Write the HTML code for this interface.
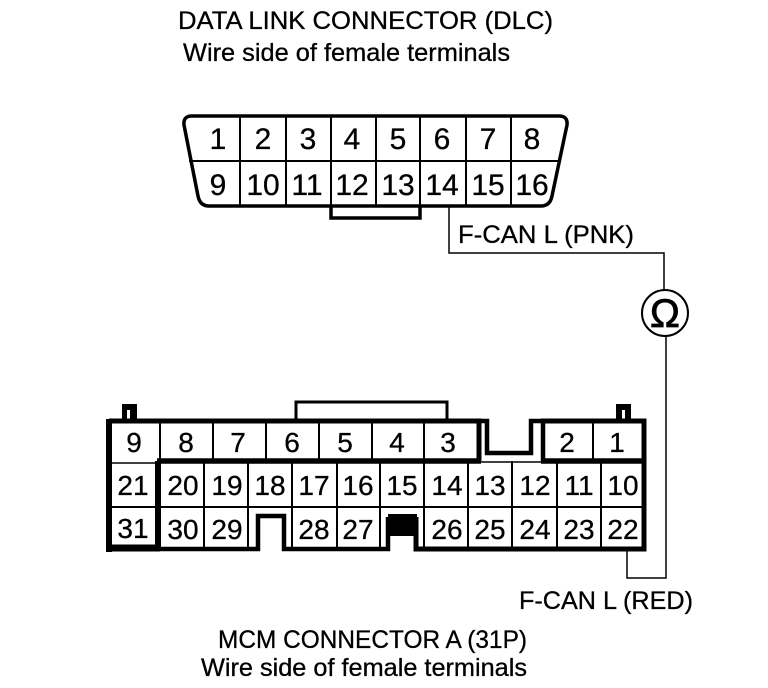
<!DOCTYPE html>
<html><head><meta charset="utf-8"><style>
html,body{margin:0;padding:0;background:#fff}
svg{display:block}
text{font-family:"Liberation Sans",sans-serif;fill:#000;stroke:#000;stroke-width:.3}
.d text{font-size:30px;text-anchor:middle}
.m text{font-size:28px;text-anchor:middle}
.l{font-size:25px}
</style></head><body>
<svg width="768" height="688" viewBox="0 0 768 688" xmlns="http://www.w3.org/2000/svg">
<rect width="768" height="688" fill="#fff"/>
<text class="l" x="178" y="29" textLength="375" lengthAdjust="spacingAndGlyphs">DATA LINK CONNECTOR (DLC)</text>
<text class="l" x="183" y="61" textLength="327" lengthAdjust="spacingAndGlyphs">Wire side of female terminals</text>
<text class="l" x="458" y="243" textLength="176" lengthAdjust="spacingAndGlyphs">F-CAN L (PNK)</text>
<text class="l" x="519" y="609" textLength="174" lengthAdjust="spacingAndGlyphs">F-CAN L (RED)</text>
<text class="l" x="218" y="648" textLength="309" lengthAdjust="spacingAndGlyphs">MCM CONNECTOR A (31P)</text>
<text class="l" x="201" y="676" textLength="326" lengthAdjust="spacingAndGlyphs">Wire side of female terminals</text>

<!-- DLC -->
<path d="M331 206V218H420V206" fill="none" stroke="#000" stroke-width="3.5"/>
<path d="M192 116H559Q568 116 567 125L552 196Q550 206 541 206H209Q200 206 198 196L184 125Q183 116 192 116Z" fill="#fff" stroke="#000" stroke-width="3.5"/>
<path d="M189 161H560" stroke="#000" stroke-width="2" fill="none"/>
<path d="M240 116V206M286 116V206M331 116V206M376 116V206M420 116V206M466 116V206M511 116V206" stroke="#000" stroke-width="2" fill="none"/>
<g class="d">
<text x="218" y="149">1</text><text x="263" y="149">2</text><text x="308" y="149">3</text><text x="352" y="149">4</text><text x="398" y="149">5</text><text x="442" y="149">6</text><text x="488" y="149">7</text><text x="532" y="149">8</text>
<text x="218" y="195">9</text><text x="263" y="195">10</text><text x="307" y="195">11</text><text x="352" y="195">12</text><text x="398" y="195">13</text><text x="442" y="195">14</text><text x="488" y="195">15</text><text x="532" y="195">16</text>
</g>

<!-- wires -->
<path d="M449 206V253H664V291" fill="none" stroke="#000" stroke-width="1.5"/>
<path d="M666 336V578H627V551" fill="none" stroke="#000" stroke-width="1.5"/>
<circle cx="665" cy="313" r="23" fill="#fff" stroke="#000" stroke-width="2"/>
<text x="665" y="327" font-size="40" text-anchor="middle" style="stroke-width:.8">Ω</text>

<!-- MCM -->
<path d="M296 419V402H447V419" fill="none" stroke="#000" stroke-width="3"/>
<rect x="122" y="404" width="15" height="16"/>
<rect x="616" y="404" width="15" height="16"/>
<rect x="127" y="410" width="3" height="14" fill="#fff"/>
<rect x="622" y="410" width="3" height="14" fill="#fff"/>
<!-- thick inner -->
<path d="M157 461H481M541 461H644" stroke="#000" stroke-width="5.5" fill="none"/>
<path d="M158 461V551" stroke="#000" stroke-width="6" fill="none"/>
<path d="M112 463H158M480 462H542" stroke="#000" stroke-width="1.5" fill="none"/>
<path d="M160 421V461M213 421V461M266 421V461M319 421V461M372 421V461M424 421V461M593 421V461" stroke="#000" stroke-width="2" fill="none"/>
<path d="M112 507H644" stroke="#000" stroke-width="2" fill="none"/>
<path d="M204 461V551M248 461V551M292 461V551M337 461V551M380 461V551M424 461V551M468 461V551M512 461V551M557 461V551M601 461V551" stroke="#000" stroke-width="2" fill="none"/>
<!-- notches -->
<rect x="258" y="509" width="25" height="44" fill="#fff"/>
<rect x="388" y="509" width="29" height="44" fill="#fff"/>
<!-- outer -->
<path d="M109 421H479V461" fill="none" stroke="#000" stroke-width="5"/>
<path d="M477 421H487V453H531V421H543V461" fill="none" stroke="#000" stroke-width="4.5"/>
<path d="M541 421H644V549H416V517" fill="none" stroke="#000" stroke-width="5"/>
<path d="M388 517V549H284V516H258V549H109" fill="none" stroke="#000" stroke-width="4.5"/>
<path d="M106 548H160" stroke="#000" stroke-width="7" fill="none"/>
<path d="M109 419V552" stroke="#000" stroke-width="6" fill="none"/>
<rect x="388" y="514" width="29" height="22"/>
<g class="m">
<text x="134" y="452">9</text><text x="186" y="452">8</text><text x="238" y="452">7</text><text x="292" y="452">6</text><text x="345" y="452">5</text><text x="397" y="452">4</text><text x="448" y="452">3</text><text x="567" y="452">2</text><text x="617" y="452">1</text>
<text x="133" y="495">21</text><text x="183" y="495">20</text><text x="227" y="495">19</text><text x="270" y="495">18</text><text x="314" y="495">17</text><text x="358" y="495">16</text><text x="402" y="495">15</text><text x="447" y="495">14</text><text x="490" y="495">13</text><text x="535" y="495">12</text><text x="579" y="495">11</text><text x="623" y="495">10</text>
<text x="133" y="538">31</text><text x="183" y="539">30</text><text x="227" y="539">29</text><text x="314" y="539">28</text><text x="358" y="539">27</text><text x="447" y="539">26</text><text x="490" y="539">25</text><text x="535" y="539">24</text><text x="579" y="539">23</text><text x="623" y="539">22</text>
</g>
</svg>
</body></html>
